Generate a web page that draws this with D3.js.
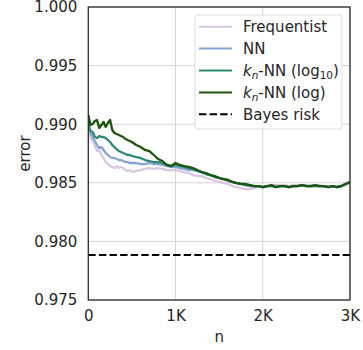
<!DOCTYPE html>
<html>
<head>
<meta charset="utf-8">
<script src="https://cdn.jsdelivr.net/npm/d3@7"></script>
<style>
  body { margin: 0; background: #fff; }
  text { font-family: "DejaVu Sans", sans-serif; fill: #262626; }
</style>
</head>
<body>
<div id="chart"></div>
<script>

const width = 363,
height = 350,
margin = { top: 7, bottom: 50, left: 88.3, right: 13 };

const fontSize = 15;

/* DATA */

const sampleN = [0, 25, 50, 75, 100, 125, 150, 175, 200, 225, 250, 275, 300, 325, 350, 375, 400, 425, 450, 475, 500,
  550, 600, 650, 700, 750, 800, 850, 900, 950, 1000, 1050, 1100, 1150, 1200, 1250, 1300, 1350, 1400, 1450, 1500,
  1550, 1600, 1650, 1700, 1750, 1800, 1850, 1900, 1950, 2000, 2050, 2100, 2150, 2200, 2250, 2300, 2350, 2400, 2450, 2500,
  2550, 2600, 2650, 2700, 2750, 2800, 2850, 2900, 2950, 3000];

const frequentist = [0.98968, 0.98882, 0.98857, 0.98814, 0.98771, 0.98780, 0.98737, 0.98712, 0.98677, 0.98660, 0.98643, 0.98635, 0.98626, 0.98643, 0.98626, 0.98635, 0.98626, 0.98609, 0.98601, 0.98609, 0.98592,
  0.98601, 0.98609, 0.98618, 0.98626, 0.98618, 0.98626, 0.98618, 0.98609, 0.98609, 0.98609, 0.98601, 0.98592, 0.98583, 0.98566, 0.98558, 0.98558, 0.98541, 0.98532, 0.98515, 0.98507,
  0.98498, 0.98490, 0.98472, 0.98464, 0.98455, 0.98447, 0.98447, 0.98455, 0.98464, 0.98472, 0.98472, 0.98481, 0.98481, 0.98481, 0.98481, 0.98472, 0.98481, 0.98481, 0.98481, 0.98481,
  0.98481, 0.98481, 0.98481, 0.98472, 0.98472, 0.98472, 0.98472, 0.98472, 0.98481, 0.98498];

const nn = [0.98985, 0.98925, 0.98891, 0.98857, 0.98822, 0.98797, 0.98805, 0.98780, 0.98754, 0.98737, 0.98720, 0.98712, 0.98712, 0.98703, 0.98694, 0.98694, 0.98686, 0.98677, 0.98677, 0.98669, 0.98669,
  0.98669, 0.98660, 0.98660, 0.98669, 0.98660, 0.98660, 0.98652, 0.98643, 0.98635, 0.98635, 0.98626, 0.98618, 0.98609, 0.98609, 0.98601, 0.98592, 0.98575, 0.98566, 0.98549, 0.98541,
  0.98532, 0.98515, 0.98507, 0.98498, 0.98490, 0.98481, 0.98472, 0.98472, 0.98472, 0.98464, 0.98472, 0.98472, 0.98464, 0.98472, 0.98472, 0.98464, 0.98472, 0.98472, 0.98481, 0.98472,
  0.98472, 0.98472, 0.98472, 0.98472, 0.98464, 0.98472, 0.98464, 0.98472, 0.98490, 0.98507];

const knnLog10 = [0.99002, 0.98942, 0.98933, 0.98891, 0.98882, 0.98899, 0.98891, 0.98891, 0.98882, 0.98865, 0.98848, 0.98822, 0.98805, 0.98788, 0.98771, 0.98763, 0.98754, 0.98746, 0.98737, 0.98737, 0.98729,
  0.98720, 0.98712, 0.98694, 0.98686, 0.98677, 0.98677, 0.98669, 0.98652, 0.98643, 0.98652, 0.98643, 0.98635, 0.98626, 0.98618, 0.98601, 0.98592, 0.98575, 0.98566, 0.98549, 0.98541,
  0.98532, 0.98524, 0.98507, 0.98498, 0.98490, 0.98481, 0.98481, 0.98472, 0.98472, 0.98464, 0.98472, 0.98472, 0.98464, 0.98472, 0.98472, 0.98464, 0.98472, 0.98472, 0.98481, 0.98472,
  0.98472, 0.98472, 0.98472, 0.98472, 0.98464, 0.98472, 0.98464, 0.98472, 0.98490, 0.98507];

const knnLog = [0.99078, 0.98993, 0.99002, 0.99027, 0.99036, 0.98968, 0.98993, 0.99019, 0.98976, 0.99010, 0.99036, 0.98950, 0.98925, 0.98916, 0.98908, 0.98899, 0.98891, 0.98874, 0.98865, 0.98857, 0.98848,
  0.98822, 0.98805, 0.98780, 0.98771, 0.98737, 0.98703, 0.98686, 0.98652, 0.98643, 0.98669, 0.98652, 0.98643, 0.98635, 0.98626, 0.98609, 0.98592, 0.98583, 0.98566, 0.98558, 0.98541,
  0.98532, 0.98524, 0.98507, 0.98498, 0.98490, 0.98490, 0.98481, 0.98472, 0.98472, 0.98464, 0.98472, 0.98481, 0.98464, 0.98472, 0.98472, 0.98464, 0.98472, 0.98472, 0.98481, 0.98472,
  0.98472, 0.98481, 0.98472, 0.98472, 0.98464, 0.98472, 0.98464, 0.98472, 0.98490, 0.98507];

const bayesRisk = 0.97884;

const xTicks = [0, 1000, 2000, 3000];
const xTickLabels = ["0", "1K", "2K", "3K"];
const yTicks = [0.975, 0.980, 0.985, 0.990, 0.995, 1.000];

const seriesNames = ["Frequentist", "NN", "knnLog10", "knnLog"];
const seriesColors = ["#d9c7e2", "#86a3d3", "#2f8a73", "#1b560e"];

// build series table from the arrays above
const series = [frequentist, nn, knnLog10, knnLog].map((vals, i) => ({
  name: seriesNames[i],
  color: seriesColors[i],
  points: sampleN.map((n, j) => ({ n: n, v: vals[j] }))
}));

/* SCALES */

const xScale = d3.scaleLinear()
  .domain([0, 3000])
  .range([margin.left, width - margin.right]);

const yScale = d3.scaleLinear()
  .domain([0.975, 1.000])
  .range([height - margin.bottom, margin.top]);

const svg = d3.select("#chart")
  .append("svg")
  .attr("width", width)
  .attr("height", height);

// grid
svg.append("g")
  .selectAll("line")
  .data(xTicks)
  .join("line")
  .attr("x1", d => xScale(d)).attr("x2", d => xScale(d))
  .attr("y1", margin.top).attr("y2", height - margin.bottom)
  .attr("stroke", "#d4d4d4").attr("stroke-width", 1);

svg.append("g")
  .selectAll("line")
  .data(yTicks)
  .join("line")
  .attr("x1", margin.left).attr("x2", width - margin.right)
  .attr("y1", d => yScale(d)).attr("y2", d => yScale(d))
  .attr("stroke", "#d4d4d4").attr("stroke-width", 1);

// clip for the curves
svg.append("clipPath").attr("id", "clip")
  .append("rect")
  .attr("x", margin.left).attr("y", margin.top)
  .attr("width", width - margin.left - margin.right)
  .attr("height", height - margin.top - margin.bottom);

const line = d3.line()
  .x(d => xScale(d.n))
  .y(d => yScale(d.v));

svg.append("g")
  .attr("clip-path", "url(#clip)")
  .selectAll("path")
  .data(series)
  .join("path")
  .attr("d", d => line(d.points))
  .attr("fill", "none")
  .attr("stroke", d => d.color)
  .attr("stroke-width", 2.3)
  .attr("stroke-linejoin", "round");

// bayes risk
svg.append("line")
  .attr("x1", xScale(0)).attr("x2", xScale(3000))
  .attr("y1", yScale(bayesRisk)).attr("y2", yScale(bayesRisk))
  .attr("stroke", "#000")
  .attr("stroke-width", 2)
  .attr("stroke-dasharray", "7.4,3.2");

// axes
const xAxis = d3.axisBottom(xScale)
  .tickValues(xTicks)
  .tickFormat((d, i) => xTickLabels[i])
  .tickSize(0)
  .tickPadding(10);

const yAxis = d3.axisLeft(yScale)
  .tickValues(yTicks)
  .tickFormat(d3.format(".3f"))
  .tickSize(0)
  .tickPadding(11);

const xAxisGroup = svg.append("g")
  .attr("transform", `translate(0, ${height - margin.bottom})`)
  .call(xAxis);

const yAxisGroup = svg.append("g")
  .attr("transform", `translate(${margin.left}, 0)`)
  .call(yAxis);

[xAxisGroup, yAxisGroup].forEach(g => {
  g.select(".domain").remove();
  g.selectAll("text")
    .attr("font-family", "DejaVu Sans")
    .attr("font-size", fontSize)
    .attr("fill", "#262626");
});

// frame
svg.append("rect")
  .attr("x", margin.left).attr("y", margin.top)
  .attr("width", width - margin.left - margin.right)
  .attr("height", height - margin.top - margin.bottom)
  .attr("fill", "none")
  .attr("stroke", "#262626")
  .attr("stroke-width", 1.25);

// axis labels
svg.append("text")
  .attr("text-anchor", "middle")
  .attr("x", (margin.left + width - margin.right) / 2)
  .attr("y", 342)
  .attr("font-size", fontSize)
  .text("n");

svg.append("text")
  .attr("text-anchor", "middle")
  .attr("transform", `translate(30, ${(margin.top + height - margin.bottom) / 2}) rotate(-90)`)
  .attr("font-size", fontSize)
  .text("error");

// legend
const legend = svg.append("g");

legend.append("rect")
  .attr("x", 195).attr("y", 15)
  .attr("width", 147).attr("height", 114)
  .attr("rx", 3)
  .attr("fill", "#fff").attr("fill-opacity", 0.8)
  .attr("stroke", "#dcdcdc").attr("stroke-width", 1);

const legendItems = [
  { color: seriesColors[0], dash: null },
  { color: seriesColors[1], dash: null },
  { color: seriesColors[2], dash: null },
  { color: seriesColors[3], dash: null },
  { color: "#000", dash: "7.4,3.2" }
];

const rows = legend.selectAll("g")
  .data(legendItems)
  .join("g")
  .attr("transform", (d, i) => `translate(0, ${26.7 + i * 21.9})`);

rows.append("line")
  .attr("x1", 199).attr("x2", 232)
  .attr("stroke", d => d.color)
  .attr("stroke-width", 2)
  .attr("stroke-dasharray", d => d.dash);

const labels = rows.append("text")
  .attr("x", 243)
  .attr("y", 5.5)
  .attr("font-size", fontSize);

labels.each(function (d, i) {
  const t = d3.select(this);
  if (i === 0) t.text("Frequentist");
  else if (i === 1) t.text("NN");
  else if (i === 4) t.text("Bayes risk");
  else {
    t.append("tspan").attr("font-style", "italic").text("k");
    t.append("tspan").attr("font-size", 10.5).attr("dy", 3).attr("font-style", "italic").text("n");
    t.append("tspan").attr("dy", -3).text(i === 2 ? "-NN (log" : "-NN (log)");
    if (i === 2) {
      t.append("tspan").attr("font-size", 10.5).attr("dy", 3).text("10");
      t.append("tspan").attr("dy", -3).text(")");
    }
  }
});

</script>
</body>
</html>
